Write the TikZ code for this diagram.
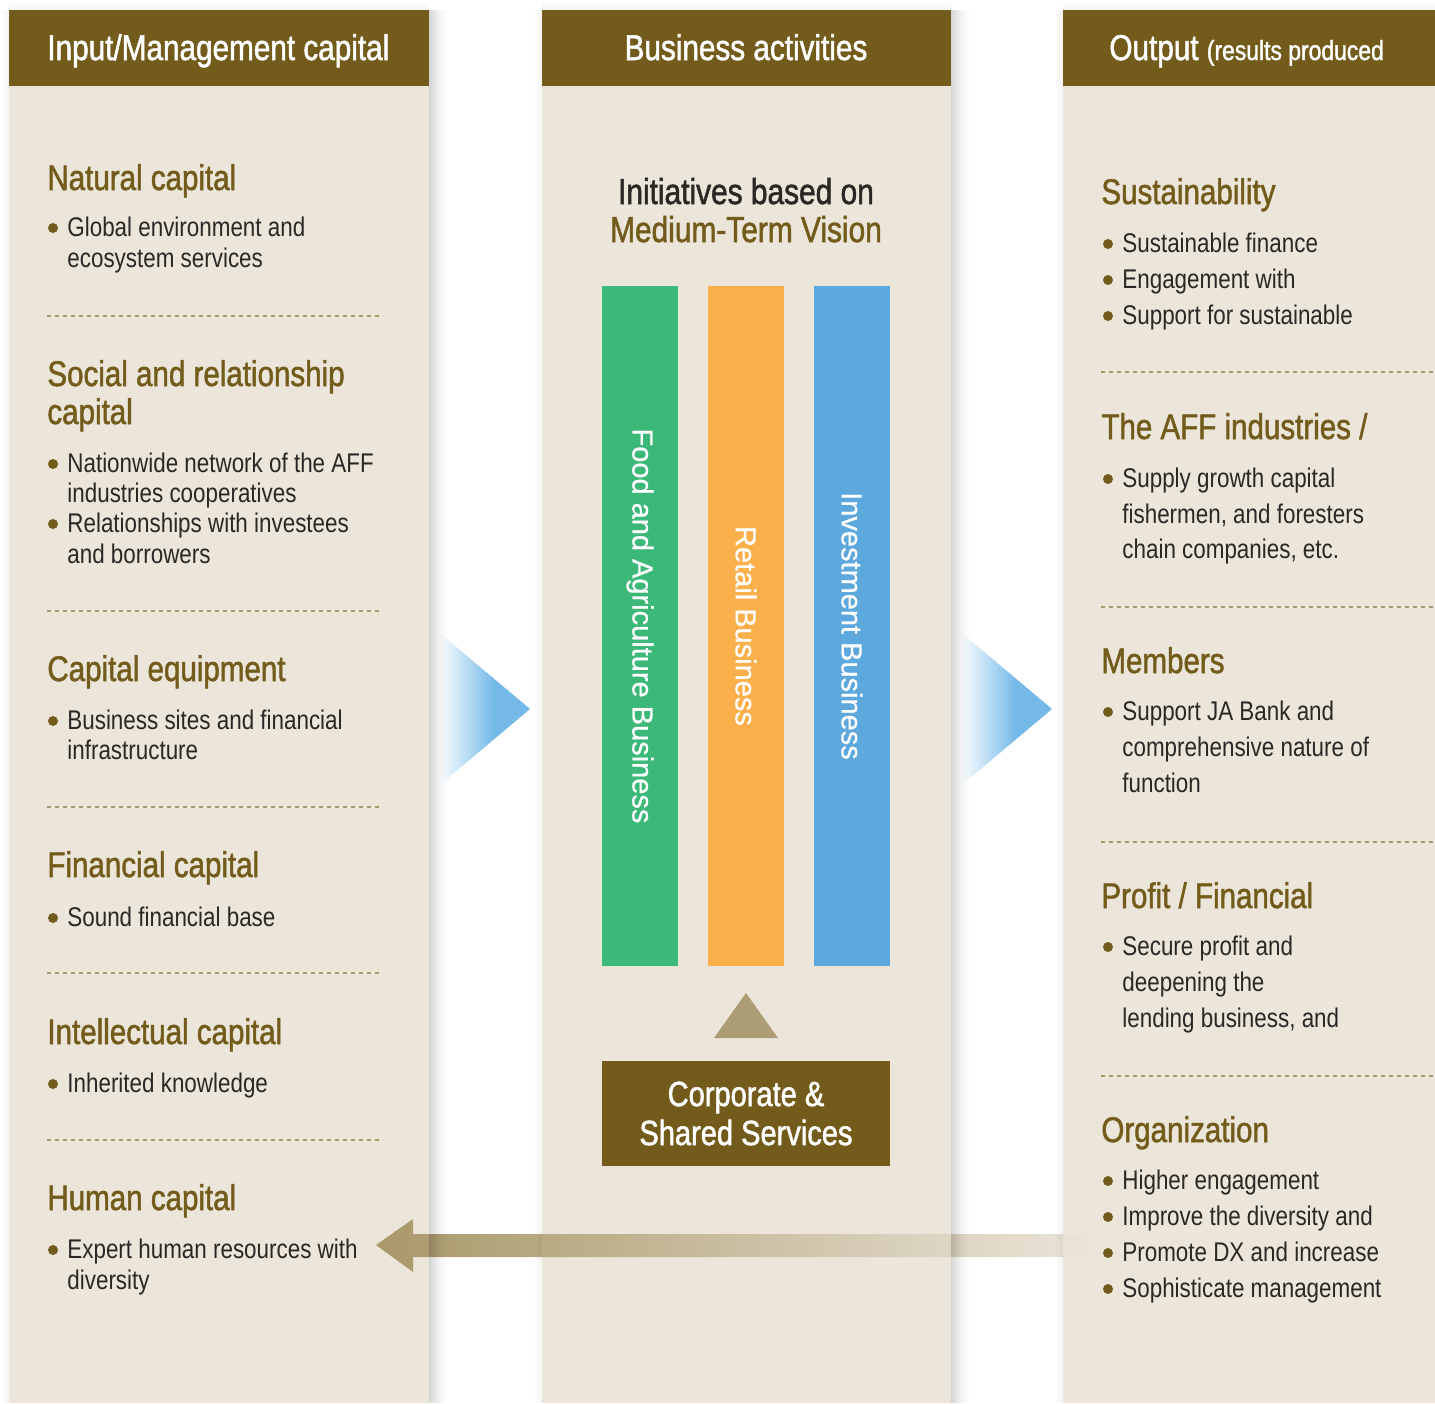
\documentclass[tikz,border=0pt]{standalone}
\usepackage{fontspec}
\setmainfont{Liberation Sans}[FakeStretch=0.83]
\newfontfamily\medfont{Liberation Sans}[FakeStretch=0.83, FakeBold=1.4]
\newfontfamily\barfont{Liberation Sans}[FakeBold=0.6]
\definecolor{hdr}{HTML}{735C1B}
\definecolor{panel}{HTML}{EBE5DA}
\definecolor{gold}{HTML}{735C1B}
\definecolor{bodyc}{HTML}{2B2725}
\definecolor{dashc}{HTML}{A8976B}
\definecolor{bgreen}{HTML}{3CB878}
\definecolor{borange}{HTML}{FBB04B}
\definecolor{bblue}{HTML}{5DA8DC}
\definecolor{arrblue}{HTML}{74B9E8}
\definecolor{tric}{HTML}{AD9D74}
\definecolor{arrgold}{HTML}{A99869}
\pgfdeclarehorizontalshading{bluearr}{100bp}{color(0bp)=(white); color(30bp)=(white); color(42bp)=(white!55!arrblue); color(57bp)=(arrblue); color(100bp)=(arrblue)}
\newcommand{\bl}[4]{\fill[gold] (#2-14,#3-8) circle (2.5pt); \node[item] (#1) at (#2,#3) {#4};}
\begin{document}
\begin{tikzpicture}[x=0.5pt,y=-0.5pt,
  hdrbox/.style={fill=hdr, inner sep=0, anchor=north west, minimum height=38pt},
  hdrtext/.style={font=\medfont\fontsize{17.9}{21}\selectfont, text=white, inner sep=0, anchor=base west},
  title/.style={font=\medfont\fontsize{17.8}{21}\selectfont, text=gold, inner sep=0, anchor=base west},
  item/.style={font=\fontsize{13.5}{16}\selectfont, text=bodyc, inner sep=0, anchor=base west},
  dashline/.style={draw=dashc, line width=0.6pt, dash pattern=on 2pt off 2pt},
  bar/.style={rotate=-90, minimum width=340pt, minimum height=38pt, inner sep=0, text=white, font=\barfont\fontsize{14.5}{17}\selectfont},
  mid/.style={font=\medfont\fontsize{18}{21}\selectfont, inner sep=0, anchor=base}]
\useasboundingbox (0,0) rectangle (1435,1403);
\fill[white] (0,0) rectangle (1435,1403);
% panels
\fill[panel] (9,86) rectangle (429,1403);
\fill[panel] (542,86) rectangle (951,1403);
\fill[panel] (1063,86) rectangle (1435,1403);
% headers
\node[hdrbox, minimum width=210pt] (h1) at (9,10) {};
\node[hdrbox, minimum width=204.5pt] (h2) at (542,10) {};
\node[hdrbox, minimum width=186pt] (h3) at (1063,10) {};
\node[hdrtext] (h1t) at (47,60) {Input/Management capital};
\node[hdrtext, anchor=base] (h2t) at (746,60) {Business activities};
\node[hdrtext] (h3t) at (1109,60) {Output {\fontsize{13.8}{16}\selectfont (results produced}};
% left column
\node[title] (nat) at (47,190) {Natural capital};
\bl{nat1}{67}{236}{Global environment and}
\node[item] (nat2) at (67,267) {ecosystem services};
\draw[dashline] (47,316) -- (383,316);
\node[title] (soc) at (47,386) {Social and relationship};
\node[title] (soc0) at (47,424) {capital};
\bl{soc1}{67}{472}{Nationwide network of the AFF}
\node[item] (soc2) at (67,502) {industries cooperatives};
\bl{soc3}{67}{532}{Relationships with investees}
\node[item] (soc4) at (67,563) {and borrowers};
\draw[dashline] (47,611) -- (383,611);
\node[title] (cap) at (47,681) {Capital equipment};
\bl{cap1}{67}{729}{Business sites and financial}
\node[item] (cap2) at (67,759) {infrastructure};
\draw[dashline] (47,807) -- (383,807);
\node[title] (fin) at (47,877) {Financial capital};
\bl{fin1}{67}{926}{Sound financial base}
\draw[dashline] (47,973) -- (383,973);
\node[title] (int) at (47,1044) {Intellectual capital};
\bl{int1}{67}{1092}{Inherited knowledge}
\draw[dashline] (47,1140) -- (383,1140);
\node[title] (hum) at (47,1210) {Human capital};
\bl{hum1}{67}{1258}{Expert human resources with}
\node[item] (hum2) at (67,1289) {diversity};
% right column
\node[title] (sus) at (1101,204) {Sustainability};
\bl{sus1}{1122}{252}{Sustainable finance}
\bl{sus2}{1122}{288}{Engagement with}
\bl{sus3}{1122}{324}{Support for sustainable}
\draw[dashline] (1101,372) -- (1435,372);
\node[title] (aff) at (1101,439) {The AFF industries /};
\bl{aff1}{1122}{487}{Supply growth capital}
\node[item] (aff2) at (1122,523) {fishermen, and foresters};
\node[item] (aff3) at (1122,558) {chain companies, etc.};
\draw[dashline] (1101,607) -- (1435,607);
\node[title] (mem) at (1101,673) {Members};
\bl{mem1}{1122}{720}{Support JA Bank and}
\node[item] (mem2) at (1122,756) {comprehensive nature of};
\node[item] (mem3) at (1122,792) {function};
\draw[dashline] (1101,842) -- (1435,842);
\node[title] (pro) at (1101,908) {Profit / Financial};
\bl{pro1}{1122}{955}{Secure profit and}
\node[item] (pro2) at (1122,991) {deepening the};
\node[item] (pro3) at (1122,1027) {lending business, and};
\draw[dashline] (1101,1076) -- (1435,1076);
\node[title] (org) at (1101,1142) {Organization};
\bl{org1}{1122}{1189}{Higher engagement}
\bl{org2}{1122}{1225}{Improve the diversity and}
\bl{org3}{1122}{1261}{Promote DX and increase}
\bl{org4}{1122}{1297}{Sophisticate management}
% middle
\node[mid, text=bodyc] (ini1) at (746,204) {Initiatives based on};
\node[mid, text=gold] (ini2) at (746,242) {Medium-Term Vision};
\node[bar, fill=bgreen] (food) at (640,626) {Food and Agriculture Business};
\node[bar, fill=borange] (retail) at (746,626) {Retail Business};
\node[bar, fill=bblue] (invest) at (852,626) {Investment Business};
\node[fill=hdr, minimum width=144pt, minimum height=52.5pt, inner sep=0, text=white, align=center,
  font=\medfont\fontsize{17.5}{19.5}\selectfont] (corp) at (746,1113.5) {Corporate \&\\Shared Services};
\coordinate (triapex) at (746,993);
\fill[tric] (triapex) -- (778,1038) -- (714,1038) -- cycle;
% blue arrows
\coordinate (tip1) at (530,709);
\coordinate (tip2) at (1052,709);
\shade[shading=bluearr] (429,624) -- (tip1) -- (429,794) -- cycle;
\shade[shading=bluearr] (951,624) -- (tip2) -- (951,794) -- cycle;
% feedback arrow
\coordinate (fbtip) at (376,1245);
\coordinate (fbend) at (1095,1245);
\shade[left color=arrgold, right color=panel] (fbtip) -- (413,1219) -- (413,1234) -- (1095,1234) -- (1095,1257) -- (413,1257) -- (413,1272) -- cycle;
% soft shadows (drawn over, translucent)
\foreach \i in {0,...,21} {
  \pgfmathsetmacro{\op}{0.17*(1-\i/22)^2}
  \fill[black, fill opacity=\op] (429+\i,10) rectangle (430+\i,1403);
  \fill[black, fill opacity=\op] (951+\i,10) rectangle (952+\i,1403);
}
\foreach \i in {1,...,8} {
  \pgfmathsetmacro{\op}{0.05*(1-\i/9)}
  \fill[black, fill opacity=\op] (9-\i,10) rectangle (10-\i,1403);
  \fill[black, fill opacity=\op] (542-\i,10) rectangle (543-\i,1403);
  \fill[black, fill opacity=\op] (1063-\i,10) rectangle (1064-\i,1403);
  \fill[black, fill opacity=\op] (9,10-\i) rectangle (429,11-\i);
  \fill[black, fill opacity=\op] (542,10-\i) rectangle (951,11-\i);
  \fill[black, fill opacity=\op] (1063,10-\i) rectangle (1435,11-\i);
}
\end{tikzpicture}
\end{document}
